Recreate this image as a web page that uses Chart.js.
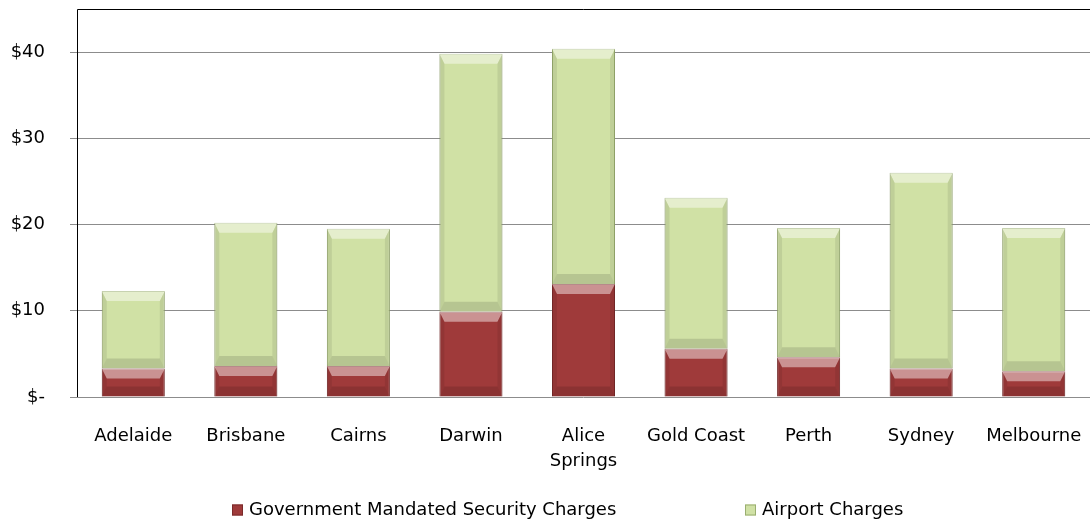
<!DOCTYPE html>
<html>
<head>
<meta charset="utf-8">
<script src="https://cdn.jsdelivr.net/npm/chart.js@4"></script>
<style>
  html, body { margin: 0; padding: 0; background: #fff; }
  #wrap { width: 1092px; height: 523px; }
</style>
</head>
<body>
<div id="wrap"><canvas id="airportChart"></canvas></div>
<script>
const cities = ['Adelaide', 'Brisbane', 'Cairns', 'Darwin', ['Alice', 'Springs'], 'Gold Coast', 'Perth', 'Sydney', 'Melbourne'];
const securityCharges = [3.3, 3.6, 3.6, 9.9, 13.1, 5.6, 4.6, 3.3, 3.0];
const airportCharges = [9.0, 16.6, 15.9, 29.9, 27.3, 17.5, 15.0, 22.7, 16.6];
const yTicks = [0, 10, 20, 30, 40];

const font = "'DejaVu Sans', Verdana, sans-serif";

// draws the bevel look of the Excel bars
const bevel = {
  id: 'bevel',
  afterDatasetsDraw(chart) {
    const ctx = chart.ctx;
    chart.data.datasets.forEach((ds, i) => {
      chart.getDatasetMeta(i).data.forEach(bar => {
        const l = bar.x - bar.width / 2, r = bar.x + bar.width / 2;
        const t = Math.min(bar.y, bar.base), b = Math.max(bar.y, bar.base);
        const e = Math.min(10, (b - t) / 2), s = 5;
        ctx.save();
        ctx.fillStyle = 'rgba(255,255,255,0.45)';
        ctx.beginPath();
        ctx.moveTo(l, t); ctx.lineTo(r, t); ctx.lineTo(r - s, t + e); ctx.lineTo(l + s, t + e);
        ctx.closePath(); ctx.fill();
        ctx.fillStyle = 'rgba(0,0,0,0.12)';
        ctx.beginPath();
        ctx.moveTo(l, b); ctx.lineTo(r, b); ctx.lineTo(r - s, b - e); ctx.lineTo(l + s, b - e);
        ctx.closePath(); ctx.fill();
        ctx.fillStyle = 'rgba(0,0,0,0.08)';
        ctx.beginPath();
        ctx.moveTo(r, t); ctx.lineTo(r, b); ctx.lineTo(r - s, b - e); ctx.lineTo(r - s, t + e);
        ctx.closePath(); ctx.fill();
        ctx.beginPath();
        ctx.moveTo(l, t); ctx.lineTo(l, b); ctx.lineTo(l + s, b - e); ctx.lineTo(l + s, t + e);
        ctx.closePath(); ctx.fill();
        ctx.restore();
      });
    });
  }
};

// top and left border of the plot area
const frame = {
  id: 'frame',
  afterDraw(chart) {
    const a = chart.chartArea, ctx = chart.ctx;
    ctx.save();
    ctx.strokeStyle = '#000';
    ctx.lineWidth = 1;
    ctx.beginPath();
    ctx.moveTo(a.left + 0.5, a.bottom);
    ctx.lineTo(a.left + 0.5, a.top + 0.5);
    ctx.lineTo(a.right, a.top + 0.5);
    ctx.stroke();
    ctx.restore();
  }
};

// legend drawn by hand so the item placement matches the original
const legendRow = {
  id: 'legendRow',
  afterDraw(chart) {
    const ctx = chart.ctx;
    const y = 510, box = 11, gap = 6;
    const starts = [232, 745];
    ctx.save();
    ctx.font = '18px ' + font;
    ctx.textBaseline = 'middle';
    chart.data.datasets.forEach((ds, i) => {
      const x = starts[i];
      ctx.fillStyle = ds.backgroundColor;
      ctx.fillRect(x, y - box / 2, box, box);
      ctx.strokeStyle = ds.borderColor;
      ctx.strokeRect(x + 0.5, y - box / 2 + 0.5, box - 1, box - 1);
      ctx.fillStyle = '#000';
      ctx.fillText(ds.label, x + box + gap, y);
    });
    ctx.restore();
  }
};

new Chart(document.getElementById('airportChart'), {
  type: 'bar',
  data: {
    labels: cities,
    datasets: [{
      label: 'Government Mandated Security Charges',
      data: securityCharges,
      backgroundColor: '#9f3a3a',
      borderColor: '#7a2a2a',
      borderWidth: 1,
      barPercentage: 0.56,
      categoryPercentage: 1
    }, {
      label: 'Airport Charges',
      data: airportCharges,
      backgroundColor: '#d0e1a5',
      borderColor: '#9aae70',
      borderWidth: 1,
      barPercentage: 0.56,
      categoryPercentage: 1
    }]
  },
  options: {
    responsive: true,
    maintainAspectRatio: false,
    animation: false,
    layout: { padding: { top: 9, right: 2, left: 0, bottom: 46 } },
    plugins: {
      tooltip: { enabled: false },
      legend: { display: false }
    },
    scales: {
      x: {
        stacked: true,
        grid: { display: false },
        border: { display: false },
        ticks: { font: { family: font, size: 18, lineHeight: 1.4 }, color: '#000', maxRotation: 0, padding: 19 },
        afterFit(s) { s.height = 80; s.paddingLeft = 0; s.paddingRight = 0; }
      },
      y: {
        stacked: true,
        min: 0,
        max: 45,
        afterBuildTicks(s) { s.ticks = yTicks.map(v => ({ value: v })); },
        grid: { color: '#8c8c8c', tickLength: 7, drawTicks: true },
        border: { display: false },
        ticks: {
          font: { family: font, size: 18 },
          color: '#000',
          padding: 25,
          callback: v => v === 0 ? '$-' : '$' + v
        },
        afterFit(s) { s.width = 77; s.paddingTop = 0; s.paddingBottom = 0; }
      }
    }
  },
  plugins: [bevel, frame, legendRow]
});
</script>
</body>
</html>
